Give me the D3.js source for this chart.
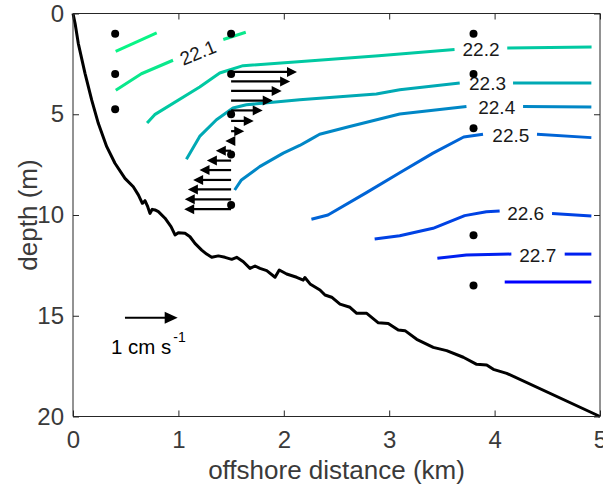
<!DOCTYPE html>
<html>
<head>
<meta charset="utf-8">
<script src="https://cdn.jsdelivr.net/npm/d3@7"></script>
<style>
  html, body { margin: 0; padding: 0; background: #fff; }
  svg text { font-family: "Liberation Sans", Arial, Helvetica, sans-serif; }
</style>
</head>
<body>
<svg id="chart" width="603" height="488"></svg>
<script>
// ---------------- data ----------------
const xTicks = [0, 1, 2, 3, 4, 5];
const yTicks = [0, 5, 10, 15, 20];
const xLabel = "offshore distance (km)";
const yLabel = "depth (m)";

// bathymetry: offshore distance (km), depth (m)
const bathyX = [0, 0.02, 0.05, 0.114, 0.177, 0.24, 0.32, 0.398, 0.493, 0.572, 0.62, 0.658, 0.683, 0.709, 0.73, 0.752, 0.778, 0.81, 0.873, 0.93, 0.968, 0.999, 1.063, 1.11, 1.157, 1.221, 1.268, 1.316, 1.379, 1.442, 1.506, 1.553, 1.616, 1.679, 1.727, 1.774, 1.838, 1.917, 1.957, 2.027, 2.122, 2.185, 2.2, 2.249, 2.343, 2.391, 2.454, 2.533, 2.628, 2.692, 2.787, 2.897, 2.991, 3.086, 3.15, 3.261, 3.418, 3.545, 3.703, 3.83, 3.925, 3.988, 4.115, 5.0];
const bathyDepth = [0, 0.5, 1.48, 2.97, 4.29, 5.45, 6.61, 7.43, 8.18, 8.6, 9.0, 9.42, 9.29, 9.59, 9.92, 9.72, 9.75, 9.83, 10.16, 10.58, 10.99, 10.88, 10.91, 11.08, 11.41, 11.74, 11.94, 12.1, 12.03, 12.1, 12.2, 12.1, 12.32, 12.65, 12.53, 12.65, 12.76, 13.09, 12.73, 12.93, 13.09, 13.23, 13.1, 13.42, 13.72, 13.97, 14.08, 14.42, 14.58, 14.88, 14.88, 15.35, 15.38, 15.71, 15.74, 16.17, 16.57, 16.73, 17.06, 17.41, 17.44, 17.66, 17.86, 20.0];

// measurement stations
const stationX = [0.4, 0.4, 0.4, 1.5, 1.5, 1.5, 1.5, 1.5, 3.8, 3.8, 3.8, 3.8, 3.8];
const stationDepth = [1, 3, 4.75, 1, 3, 5, 7, 9.5, 1, 3, 5.7, 11, 13.5];

// cross-shore velocity profile at x = 1.5 km (cm/s)
const velocityX = 1.5;
const velocityDepth = [2.9, 3.37, 3.84, 4.32, 4.81, 5.33, 5.84, 6.33, 6.81, 7.3, 7.77, 8.26, 8.73, 9.22, 9.71];
const velocityU = [1.25, 1.12, 0.96, 0.79, 0.6, 0.43, 0.25, -0.11, -0.29, -0.46, -0.6, -0.72, -0.82, -0.88, -0.89];
const kmPerCms = 0.5;               // arrow scale
const refArrow = { x: 0.493, depth: 15.1, u: 1 };
const refLabel = "1 cm s";
const refLabelSup = "-1";

// temperature contours (°C): pieces of each level, [km, m]
const contourLevels = [22.0, 22.1, 22.1, 22.2, 22.2, 22.3, 22.3, 22.4, 22.4, 22.5, 22.5, 22.6, 22.6, 22.7, 22.7, 22.8];
const contourPieces = [
  [[0.405, 1.88], [0.794, 0.96]],
  [[0.406, 3.81], [0.649, 2.99], [0.949, 2.32]],
  [[1.426, 1.29], [1.639, 0.93]],
  [[0.703, 5.44], [0.775, 5.02], [1.202, 3.65], [1.392, 2.95], [1.614, 2.59], [2.2, 2.37], [2.9, 2.1], [3.62, 1.79]],
  [[4.12, 1.71], [4.92, 1.66]],
  [[1.076, 7.23], [1.202, 6.10], [1.361, 5.27], [1.518, 4.69], [1.645, 4.53], [2.151, 4.28], [2.467, 4.16], [2.878, 3.99], [3.1, 3.78], [3.669, 3.45]],
  [[4.175, 3.45], [4.918, 3.45]],
  [[1.534, 8.76], [1.598, 8.26], [1.771, 7.60], [1.995, 6.93], [2.151, 6.55], [2.246, 6.27], [2.34, 5.99], [2.625, 5.61], [3.1, 4.99], [3.733, 4.61]],
  [[4.27, 4.61], [4.918, 4.64]],
  [[2.262, 10.21], [2.419, 10.0], [2.784, 8.89], [3.1, 7.90], [3.416, 6.93], [3.707, 6.13], [3.89, 5.99]],
  [[4.402, 5.99], [4.918, 6.16]],
  [[2.862, 11.19], [3.1, 11.03], [3.416, 10.66], [3.716, 10.03], [3.922, 9.84], [4.048, 9.80]],
  [[4.545, 9.92], [4.918, 10.05]],
  [[3.457, 12.15], [3.732, 11.99], [4.159, 11.94]],
  [[4.665, 11.94], [4.918, 11.94]],
  [[4.096, 13.32], [4.918, 13.32]]
];
const labelText = ["22.1", "22.2", "22.3", "22.4", "22.5", "22.6", "22.7"];
const labelX = [1.184, 3.871, 3.933, 4.02, 4.154, 4.295, 4.409];
const labelDepth = [1.94, 1.80, 3.48, 4.68, 6.03, 9.92, 11.99];
const labelAngle = [-22, 0, 0, 0, 0, 0, 0];

// ---------------- layout ----------------
const W = 603, H = 488;
const m = { left: 73, right: 3, top: 13.5, bottom: 71.5 };
const svg = d3.select("#chart");
const x = d3.scaleLinear().domain([0, 5]).range([m.left, W - m.right]);
const y = d3.scaleLinear().domain([0, 20]).range([m.top, H - m.bottom]);
const axisColor = "#262626";
const font = "'Liberation Sans', Arial, Helvetica, sans-serif";

const levelColor = d3.scaleOrdinal()
  .domain([22.0, 22.1, 22.2, 22.3, 22.4, 22.5, 22.6, 22.7, 22.8])
  .range(["#08f586", "#0ae88c", "#00c9a2", "#00a9b4", "#0087c6", "#0064d6", "#0042e4", "#0020f0", "#0000ff"]);

const line = d3.line().x(d => x(d[0])).y(d => y(d[1]));

// contours
svg.append("g").selectAll("path").data(contourPieces).join("path")
  .attr("d", line)
  .attr("fill", "none")
  .attr("stroke", (d, i) => levelColor(contourLevels[i]))
  .attr("stroke-width", 3)
  .attr("stroke-linejoin", "round");

// contour labels
svg.append("g").selectAll("text").data(labelText).join("text")
  .attr("transform", (d, i) => `translate(${x(labelX[i])},${y(labelDepth[i])}) rotate(${labelAngle[i]})`)
  .attr("text-anchor", "middle")
  .attr("dy", "0.35em")
  .attr("font-size", 19)
  .attr("fill", "#1a1a1a")
  .text(d => d);

// bathymetry
const bathy = bathyX.map((v, i) => [v, bathyDepth[i]]);
svg.append("path").datum(bathy)
  .attr("d", line)
  .attr("fill", "none")
  .attr("stroke", "#000")
  .attr("stroke-width", 3)
  .attr("stroke-linejoin", "round");

// velocity arrows
function arrow(g, x0km, depth, u, headL, headW, sw) {
  const px0 = x(x0km), px1 = x(x0km + u * kmPerCms), py = y(depth);
  const dir = Math.sign(px1 - px0) || 1;
  const base = px1 - dir * headL;
  if ((base - px0) * dir > 0) {
    g.append("line").attr("x1", px0).attr("x2", base + dir * 1).attr("y1", py).attr("y2", py)
      .attr("stroke", "#000").attr("stroke-width", sw);
  }
  g.append("path")
    .attr("d", `M${px1},${py} L${base},${py - headW / 2} L${base},${py + headW / 2} Z`)
    .attr("fill", "#000");
}
const ga = svg.append("g");
velocityU.forEach((u, i) => arrow(ga, velocityX, velocityDepth[i], u, 10, 10, 2.2));
arrow(ga, refArrow.x, refArrow.depth, refArrow.u, 13, 12, 2.2);

// stations
svg.append("g").selectAll("circle").data(stationX).join("circle")
  .attr("cx", d => x(d))
  .attr("cy", (d, i) => y(stationDepth[i]))
  .attr("r", 4)
  .attr("fill", "#000");

// reference label
const rl = svg.append("text")
  .attr("x", x(0.36)).attr("y", y(16.9))
  .attr("font-size", 20.5).attr("fill", "#000");
rl.append("tspan").text(refLabel);
rl.append("tspan").attr("dy", -12).attr("dx", 2).attr("font-size", 14).text(refLabelSup);

// ---------------- axes ----------------
const tickLen = 6;
const gx = svg.append("g").attr("transform", `translate(0,${y(20)})`)
  .call(d3.axisBottom(x).tickValues(xTicks).tickSize(-tickLen).tickPadding(14).tickFormat(d3.format("d")));
const gxt = svg.append("g").attr("transform", `translate(0,${y(0)})`)
  .call(d3.axisTop(x).tickValues(xTicks).tickSize(-tickLen).tickFormat(""));
const gy = svg.append("g").attr("transform", `translate(${x(0)},0)`)
  .call(d3.axisLeft(y).tickValues(yTicks).tickSize(-tickLen).tickPadding(9).tickFormat(d3.format("d")));
const gyr = svg.append("g").attr("transform", `translate(${x(5)},0)`)
  .call(d3.axisRight(y).tickValues(yTicks).tickSize(-tickLen).tickFormat(""));

[gx, gxt, gy, gyr].forEach(g => {
  g.select(".domain").attr("stroke", axisColor).attr("stroke-width", 1);
  g.selectAll(".tick line").attr("stroke", axisColor).attr("stroke-width", 1);
  g.selectAll(".tick text").attr("fill", "#3a3a3a").attr("font-size", 24).attr("font-family", font);
});
[gx, gxt].forEach(g => g.select(".domain").attr("d", `M${x(0)},0H${x(5)}`));
[gy, gyr].forEach(g => g.select(".domain").attr("d", `M0,${y(0)}V${y(20)}`));

svg.append("text")
  .attr("x", (x(0) + x(5)) / 2).attr("y", 479)
  .attr("text-anchor", "middle").attr("font-size", 26).attr("fill", "#3a3a3a")
  .text(xLabel);
svg.append("text")
  .attr("transform", `translate(37,${(y(0) + y(20)) / 2}) rotate(-90)`)
  .attr("text-anchor", "middle").attr("font-size", 26).attr("fill", "#3a3a3a")
  .text(yLabel);
</script>
</body>
</html>
